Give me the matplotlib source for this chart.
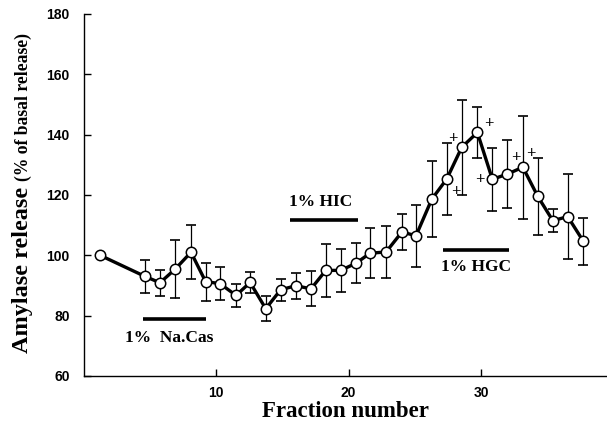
import numpy as np
import matplotlib
matplotlib.use("Agg")
import matplotlib.pyplot as plt

# fraction positions
fraction = [1.25, 4.64, 5.77, 6.91, 8.11, 9.21, 10.30, 11.51, 12.57, 13.75,
            14.88, 16.02, 17.17, 18.28, 19.41, 20.57, 21.62, 22.83, 24.02, 25.09,
            26.28, 27.41, 28.54, 29.72, 30.85, 31.98, 33.15, 34.28, 35.41, 36.54,
            37.72]
release = [100.0, 93.0, 90.9, 95.4, 101.0, 91.3, 90.6, 86.7, 91.0, 82.3,
           88.6, 89.9, 88.9, 95.0, 95.0, 97.4, 100.7, 101.1, 107.7, 106.5,
           118.6, 125.3, 135.8, 140.7, 125.2, 126.9, 129.2, 119.5, 111.5, 112.8,
           104.6]
sem = [0.0, 5.6, 4.3, 9.7, 9.0, 6.3, 5.4, 3.9, 3.6, 4.2,
       3.6, 4.3, 5.8, 8.8, 7.2, 6.7, 8.2, 8.7, 6.0, 10.3,
       12.5, 11.9, 15.7, 8.5, 10.5, 11.3, 17.1, 12.7, 3.8, 14.0,
       7.7]

# treatment periods: label, start, end, bar level, label level
treat_labels = ["1%  Na.Cas", "1% HIC", "1% HGC"]
treat_start = [4.51, 15.58, 27.11]
treat_end = [9.25, 20.72, 32.09]
treat_level = [79.0, 111.7, 101.8]
treat_text_x = [3.13, 15.51, 26.96]
treat_text_y = [72.6, 117.6, 96.0]

# significance marks
plus_x = [27.9, 28.1, 29.9, 30.6, 32.6, 33.75]
plus_y = [138.6, 120.9, 125.0, 143.4, 132.2, 133.5]

serif = "Liberation Serif"
sans = "Liberation Sans"

fig = plt.figure(figsize=(6.07, 4.25), dpi=100)
ax = fig.add_axes([0.1376, 0.1153, 0.8624, 0.852])

# error bars (thin) behind the line
ax.errorbar(fraction[1:], release[1:], yerr=sem[1:], fmt="none",
            ecolor="black", elinewidth=0.9, capsize=3.5, capthick=1.2, zorder=2)

# main trace with open circles
ax.plot(fraction, release, color="black", linewidth=2.4, marker="o",
        markersize=7.5, markerfacecolor="white", markeredgecolor="black",
        markeredgewidth=1.1, zorder=3)

# treatment bars and their labels
for lab, s, e, lv, tx, ty in zip(treat_labels, treat_start, treat_end,
                                 treat_level, treat_text_x, treat_text_y):
    ax.plot([s, e], [lv, lv], color="black", linewidth=2.6,
            solid_capstyle="butt", zorder=2)
    ax.text(tx, ty, lab, fontsize=12.5, fontweight="bold", family=serif,
            ha="left", va="center")

for px, py in zip(plus_x, plus_y):
    ax.text(px, py, "+", fontsize=12, fontweight="bold", family=serif,
            ha="center", va="center")

ax.set_xlim(0, 39.5)
ax.set_ylim(60, 180)
ax.set_xticks([10, 20, 30])
ax.set_yticks([60, 80, 100, 120, 140, 160, 180])

ax.spines["top"].set_visible(False)
ax.spines["right"].set_visible(False)
ax.spines["left"].set_linewidth(1.0)
ax.spines["bottom"].set_linewidth(1.0)
ax.tick_params(direction="in", length=5, width=1.0)
ax.tick_params(axis="y", pad=10)
ax.tick_params(axis="x", pad=7)
for lbl in ax.get_xticklabels() + ax.get_yticklabels():
    lbl.set_fontfamily(sans)
    lbl.set_fontweight("bold")
    lbl.set_fontsize(10)

ax.set_xlabel("Fraction number", fontsize=16.5, fontweight="bold",
              family=serif, labelpad=1)

# y label in two sizes
fig.text(0.037, 0.365, "Amylase release", rotation=90, fontsize=17.5,
         fontweight="bold", family=serif, ha="center", va="center")
fig.text(0.039, 0.748, "(% of basal release)", rotation=90, fontsize=12.7,
         fontweight="bold", family=serif, ha="center", va="center")

fig.savefig("out.png", dpi=100)
